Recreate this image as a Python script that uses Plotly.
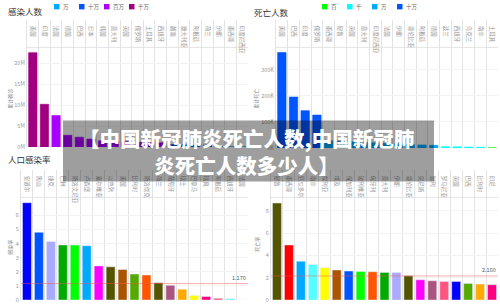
import plotly.graph_objects as go

# ---------------- data ----------------
inf_countries = ['美国', '印度', '法国', '德国', '巴西', '日本', '韩国', '意大利', '英国', '俄罗斯',
                 '土耳其', '西班牙', '越南', '澳大利亚', '阿根廷', '荷兰', '伊朗', '墨西哥', '印度尼西亚']
inf_values = [22500000, 10200000, 7500000, 2800000, 2350000, 1900000, 1500000, 1400000, 1250000, 1150000,
              1050000, 1000000, 600000, 550000, 500000, 450000, 95000, 90000, 85000]

death_countries = ['美国', '巴西', '印度', '俄罗斯', '墨西哥', '秘鲁', '英国', '意大利', '印度尼西亚', '法国',
                   '伊朗', '哥伦比亚', '阿根廷', '德国', '波兰', '西班牙', '乌克兰', '南非', '土耳其']
death_values = [365000, 195000, 143000, 126000, 28000, 26000, 24000, 22000, 20000, 18000,
                16000, 14000, 12000, 10500, 5000, 4500, 4000, 3000, 800]

rate_inf_countries = ['安道尔', '黑山', '捷克', '巴林', '斯洛文尼亚', '卢森堡', '塞尔维亚', '以色列', '美国', '比利时',
                      '斯洛伐克', '荷兰', '葡萄牙', '瑞士', '巴拿马', '瑞典', '阿根廷', '西班牙', '法国']
rate_inf_values = [6.9, 4.8, 4.15, 3.9, 3.9, 3.85, 2.42, 2.35, 2.16, 1.84,
                   1.77, 1.23, 1.04, 0.76, 0.32, 0.25, 0.13, 0.09, 0.0]
rate_inf_colors = ['#0000FF', '#0055FF', '#AAAAFF', '#00AA00', '#00FF00', '#00AAFF', '#FF00FF', '#555500',
                   '#AA5500', '#55AA00', '#FF5500', '#555500', '#AA5580', '#FFAA00', '#FFFF00', '#FF0080',
                   '#FF5580', '#55FFFF', '#AAAAAA']
rate_inf_mean = 1.170

rate_death_countries = ['秘鲁', '墨西哥', '厄瓜多尔', '南非', '叙利亚', '埃及', '保加利亚', '玻利维亚', '匈牙利',
                        '意大利', '伊朗', '哥伦比亚', '突尼斯', '智利', '罗马尼亚', '英国', '巴西', '比利时', '印尼']
rate_death_values = [8.7, 4.94, 3.48, 3.18, 2.9, 2.69, 2.6, 2.57, 2.54, 2.48,
                     2.47, 2.17, 1.82, 1.73, 1.67, 1.67, 1.49, 1.43, 1.38]
rate_death_colors = ['#555500', '#FF0000', '#00AAFF', '#55FFFF', '#FFFF00', '#AA5500', '#0055FF', '#00FF00',
                     '#FF5500', '#00AA00', '#AAAAFF', '#555500', '#FF00FF', '#AA5580', '#FF5580', '#0000FF',
                     '#55AA00', '#FFAA00', '#FF0080']
rate_death_mean = 2.160

inf_levels = [('万', 1e4, '#00AAFF'), ('十万', 1e5, '#0055FF'), ('百万', 1e6, '#AA00FF'), ('千万', 1e7, '#A0007F')]
death_levels = [('百', 1e2, '#00FF00'), ('千', 1e3, '#00FFFF'), ('万', 1e4, '#00AAFF'), ('十万', 1e5, '#0055FF')]

title_text = '【中国新冠肺炎死亡人数,中国新冠肺<br>炎死亡人数多少人】'

# ---------------- figure ----------------
W, H = 500, 307
def py(p):  # pixel row -> paper y
    return 1 - p / H

FONT = 'Noto Sans CJK SC'
fig = go.Figure()

def level_traces(cats, vals, levels, xa, ya):
    for i, (name, lo, color) in enumerate(levels):
        hi = levels[i + 1][1] if i + 1 < len(levels) else float('inf')
        xs = [c for c, v in zip(cats, vals) if lo <= v < hi]
        ys = [v for v in vals if lo <= v < hi]
        fig.add_trace(go.Bar(x=xs, y=ys, name=name, marker=dict(color=color, line=dict(color=color, width=0.6)),
                             xaxis=xa, yaxis=ya, showlegend=False, width=0.72))

level_traces(inf_countries, inf_values, inf_levels, 'x', 'y')
level_traces(death_countries, death_values, death_levels, 'x2', 'y2')
fig.add_trace(go.Bar(x=rate_inf_countries, y=rate_inf_values, marker=dict(color=rate_inf_colors),
                     xaxis='x3', yaxis='y3', showlegend=False, width=0.75))
fig.add_trace(go.Bar(x=rate_death_countries, y=rate_death_values, marker=dict(color=rate_death_colors),
                     xaxis='x4', yaxis='y4', showlegend=False, width=0.75))

GRID = '#e3e3e3'
def xax(dom, cats, anchor):
    return dict(domain=dom, type='category', categoryorder='array', categoryarray=cats, side='top',
                anchor=anchor, tickson='boundaries', showgrid=True, gridcolor=GRID, gridwidth=1,
                ticks='', ticklabelposition='inside', tickangle=90,
                tickfont=dict(family=FONT, size=5.5, color='#999999'),
                showline=False, zeroline=False, fixedrange=True)

def yax(dom, rng, tv, tt, anchor):
    return dict(domain=dom, range=rng, tickvals=tv, ticktext=tt, anchor=anchor,
                showgrid=True, gridcolor='#f3f3f3', zeroline=False, showline=True, linecolor=GRID,
                tickfont=dict(family=FONT, size=5.5, color='#999999'), ticks='', fixedrange=True)

top_dom = [py(150), py(20)]
bot_dom = [py(304), py(172)]

tl_top = (149 - 20) / 4.25e-6
tl_border = (149 - 48) / 4.25e-6
tr_top = (150 - 20) / 26.5e-5
tr_border = (150 - 48) / 26.5e-5
bl_top = (304 - 172) / 14.3
bl_border = (304 - 200) / 14.3
br_top = (304 - 172) / 11.3
br_border = (304 - 200) / 11.3

fig.update_layout(
    xaxis=xax([27 / W, 248 / W], inf_countries, 'y'),
    yaxis=yax([py(149), py(20)], [0, tl_top], [0, 5e6, 1e7, 1.5e7, 2e7], ['0M', '5M', '10M', '15M', '20M'], 'x'),
    xaxis2=xax([276 / W, 498 / W], death_countries, 'y2'),
    yaxis2=yax(top_dom, [0, tr_top], [0, 1e5, 2e5, 3e5], ['0K', '100K', '200K', '300K'], 'x2'),
    xaxis3=xax([21 / W, 248 / W], rate_inf_countries, 'y3'),
    yaxis3=yax(bot_dom, [0, bl_top], list(range(0, 8)), [str(v) for v in range(0, 8)], 'x3'),
    xaxis4=xax([271 / W, 498 / W], rate_death_countries, 'y4'),
    yaxis4=yax(bot_dom, [0, br_top], [0, 2, 4, 6, 8], ['0', '2', '4', '6', '8'], 'x4'),
)

shapes = []
for xa, ya, b in [('x', 'y', tl_border), ('x2', 'y2', tr_border), ('x3', 'y3', bl_border), ('x4', 'y4', br_border)]:
    shapes.append(dict(type='line', xref=xa + ' domain', yref=ya, x0=0, x1=1, y0=b, y1=b,
                       line=dict(color=GRID, width=1), layer='below'))
shapes.append(dict(type='line', xref='x3 domain', yref='y3', x0=0, x1=1, y0=rate_inf_mean, y1=rate_inf_mean,
                   line=dict(color='rgba(255,80,80,0.45)', width=1)))
shapes.append(dict(type='line', xref='x4 domain', yref='y4', x0=0, x1=1, y0=rate_death_mean, y1=rate_death_mean,
                   line=dict(color='rgba(255,80,80,0.45)', width=1)))

ann = []
def text(x, y, t, size=8.5, color='#333333', angle=0, xanchor='left'):
    ann.append(dict(x=x / W, y=py(y), xref='paper', yref='paper', text=t,
                    showarrow=False, xanchor=xanchor, yanchor='middle', textangle=angle,
                    font=dict(family=FONT, size=size, color=color)))

# compact legends (swatch + label), one per top chart
def legend(x0, levels):
    for i, (name, _, color) in enumerate(levels):
        sx = x0 + i * 25
        shapes.append(dict(type='rect', xref='paper', yref='paper', x0=sx / W, x1=(sx + 5.5) / W,
                           y0=py(9.5), y1=py(4), fillcolor=color, line=dict(width=0)))
        text(sx + 7, 7, name, size=5.5, color='#666666')

legend(54, inf_levels)
legend(322, death_levels)

text(6, 11, '感染人数')
text(252, 12, '死亡人数')
text(6, 161, '人口感染率')
text(10, 100, '累计确诊', size=5, color='#888888', angle=-90, xanchor='center')
text(256, 100, '累计死亡', size=5, color='#888888', angle=-90, xanchor='center')
text(10, 251, '感染率', size=5, color='#888888', angle=-90, xanchor='center')
text(257, 248, '死亡率', size=5, color='#888888', angle=-90, xanchor='center')
ann.append(dict(x=1, y=rate_inf_mean, xref='x3 domain', yref='y3', text=f'{rate_inf_mean:.3f}', showarrow=False,
                xanchor='right', yanchor='bottom', font=dict(family=FONT, size=5.5, color='#555555')))
ann.append(dict(x=1, y=rate_death_mean, xref='x4 domain', yref='y4', text=f'{rate_death_mean:.3f}', showarrow=False,
                xanchor='right', yanchor='bottom', font=dict(family=FONT, size=5.5, color='#555555')))

# title banner
shapes.append(dict(type='rect', xref='paper', yref='paper', x0=63 / W, x1=434 / W, y0=py(184), y1=py(122),
                   fillcolor='rgba(0,0,0,0.38)', line=dict(width=0), layer='above'))
ann.append(dict(x=246 / W, y=py(153), xref='paper', yref='paper', text=title_text, showarrow=False,
                xanchor='center', yanchor='middle', align='center',
                font=dict(family=FONT, size=20.5, color='white', weight=900)))

fig.update_layout(
    width=W, height=H, margin=dict(l=0, r=0, t=0, b=0),
    paper_bgcolor='white', plot_bgcolor='white', barmode='overlay',
    shapes=shapes, annotations=ann, showlegend=False,
)

fig.write_html('out.html')
